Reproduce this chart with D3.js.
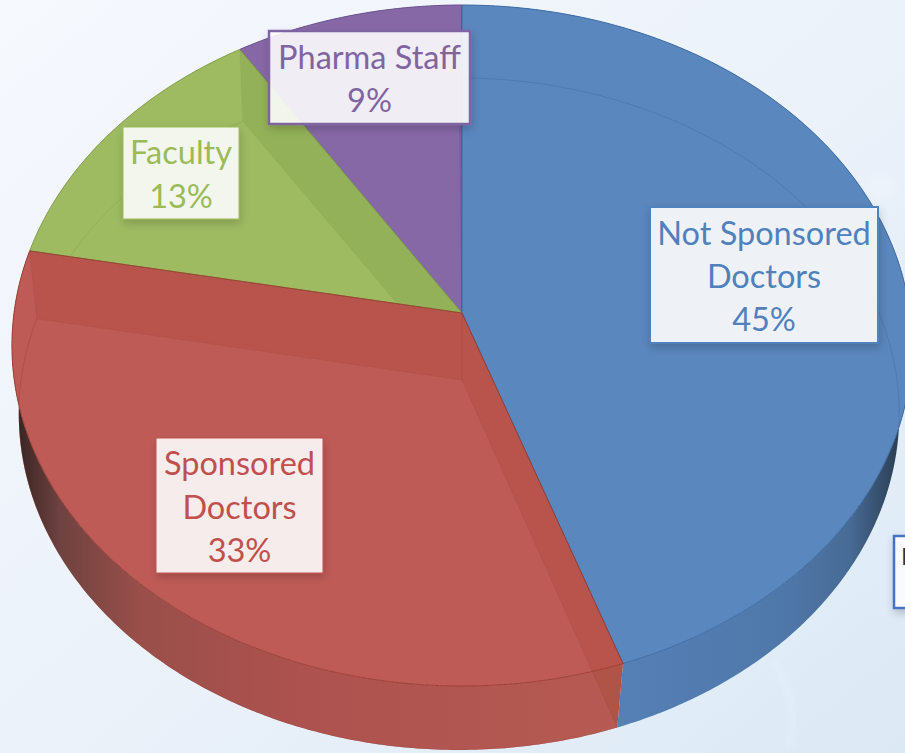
<!DOCTYPE html>
<html>
<head>
<meta charset="utf-8">
<title>pie</title>
<script src="https://cdn.jsdelivr.net/npm/d3@7/dist/d3.min.js"></script>
<style>
html, body {margin: 0; padding: 0; background: #e8f0f9; overflow: hidden}
svg {display: block}
text {font-family: Lato, "Open Sans", sans-serif; text-anchor: middle}
</style>
</head>
<body>
<svg width="905" height="753"></svg>
<script>
// values (labels show them rounded)
const categories = ["Not Sponsored Doctors", "Sponsored Doctors", "Faculty", "Pharma Staff"];
const shares = [44.7, 33.3, 13, 9];

const faceColors = ["#5a87be", "#bf5b57", "#9ebb62", "#8668a6"];
const edgeColors = ["#3f6ca3", "#9c4035", "#86a34e", "#6d5290"];
const bandColors = ["#2c5488", "#a03a20", "#6a8a30", "#5c4080"];
const labelColors = ["#4f81bd", "#c0504d", "#9bbb59", "#8064a2"];
const drawOrder = [3, 0, 2, 1];

// label boxes, one per category
const labelLines = [["Not Sponsored", "Doctors"], ["Sponsored", "Doctors"], ["Faculty"], ["Pharma Staff"]];
const labelBoxes = [
    {x: 650, y: 207, w: 228, h: 136, fill: 0.89, stroke: 2},
    {x: 156, y: 438, w: 167, h: 135, fill: 0.88, stroke: 1},
    {x: 123, y: 127, w: 116, h: 92, fill: 0.88, stroke: 1},
    {x: 269, y: 31, w: 201, h: 93, fill: 0.88, stroke: 2.5}
];
// the box that runs off the right side of the picture
const croppedLabel = "N";

const svg = d3.select("svg");
const defs = svg.append("defs");

// background
const bg = defs.append("linearGradient").attr("id", "bg")
    .attr("x1", 0).attr("y1", 0).attr("x2", 1).attr("y2", 1);
bg.append("stop").attr("offset", 0).attr("stop-color", "#f6f9fe");
bg.append("stop").attr("offset", 0.5).attr("stop-color", "#ecf2fa");
bg.append("stop").attr("offset", 1).attr("stop-color", "#dbe9f5");
svg.append("rect").attr("width", 905).attr("height", 753).attr("fill", "url(#bg)");

defs.append("filter").attr("id", "blur")
    .append("feGaussianBlur").attr("stdDeviation", 3);
svg.append("path")
    .attr("d", "M773,660C790,690 800,715 788,748")
    .attr("fill", "none").attr("stroke", "#fff").attr("stroke-opacity", 0.22)
    .attr("stroke-width", 4).attr("filter", "url(#blur)");
svg.append("ellipse")
    .attr("cx", 882).attr("cy", 186).attr("rx", 14).attr("ry", 12)
    .attr("fill", "#fff").attr("fill-opacity", 0.2).attr("filter", "url(#blur)");

const shadow = defs.append("filter").attr("id", "shadow")
    .attr("x", "-20%").attr("y", "-20%").attr("width", "140%").attr("height", "140%");
shadow.append("feDropShadow").attr("dx", 1).attr("dy", 4).attr("stdDeviation", 4)
    .attr("flood-color", "#000").attr("flood-opacity", 0.2);

// perspective of a disc: the apex is not the centre of the ellipse
const topDisc = {x0: 462, y0: 313, a: 448, b: 337.4, k: 0.0955, apexX: 462};
const bottomDisc = {x0: 459, y0: 380, a: 438, b: 332.6, k: 0.101, apexX: 462};

function project(disc, angle, r) {
    const u = r * Math.sin(angle), v = -r * Math.cos(angle);
    const w = 1 - disc.k * v;
    return [disc.x0 + disc.a * u / w, disc.y0 + disc.b * v / w];
}

function arcPoints(disc, a0, a1) {
    const n = Math.max(2, Math.ceil((a1 - a0) / 0.01));
    return d3.range(n + 1).map(i => project(disc, a0 + (a1 - a0) * i / n, 1));
}

const line = d3.line();
const arcs = d3.pie().sort(null).value(d => d)(shares);

// outer wall shading, dark where it turns away
const wallStops = [
    [[620, "#5580b6"], [780, "#4f78aa"], [850, "#486b95"], [905, "#27384c"]],
    [[12, "#33211f"], [60, "#6e4240"], [140, "#9a4f4a"], [300, "#ad524e"], [625, "#b65a53"]],
    [[0, "#888"], [905, "#888"]],
    [[0, "#888"], [905, "#888"]]
];
wallStops.forEach((stops, i) => {
    const g = defs.append("linearGradient").attr("id", "wall" + i)
        .attr("gradientUnits", "userSpaceOnUse")
        .attr("x1", stops[0][0]).attr("y1", 0)
        .attr("x2", stops[stops.length - 1][0]).attr("y2", 0);
    const s = d3.scaleLinear().domain([stops[0][0], stops[stops.length - 1][0]]).range([0, 1]);
    g.selectAll("stop").data(stops).enter().append("stop")
        .attr("offset", d => s(d[0]))
        .attr("stop-color", d => d[1]);
});

function wallPath(d) {
    const t = arcPoints(topDisc, d.startAngle, d.endAngle);
    const b = arcPoints(bottomDisc, d.startAngle, d.endAngle).reverse();
    return line(t.concat(b)) + "Z";
}

// outer walls
svg.append("g").selectAll("path").data(arcs).enter().append("path")
    .attr("d", wallPath)
    .attr("fill", (d, i) => "url(#wall" + i + ")");

function facePath(d) {
    return line([[topDisc.apexX, topDisc.y0]].concat(arcPoints(topDisc, d.startAngle, d.endAngle))) + "Z";
}

// top faces
svg.append("g").selectAll("path").data(drawOrder).enter().append("path")
    .attr("d", i => facePath(arcs[i]))
    .attr("fill", i => faceColors[i])
    .attr("stroke", i => edgeColors[i])
    .attr("stroke-width", 1);

// cut walls and the far rim, seen through the translucent slices
function wallQuad(angle) {
    return line([
        [topDisc.apexX, topDisc.y0],
        project(topDisc, angle, 1),
        project(bottomDisc, angle, 1),
        [bottomDisc.apexX, bottomDisc.y0]
    ]) + "Z";
}

arcs.forEach((d, i) => {
    const clip = defs.append("clipPath").attr("id", "clip" + i);
    clip.append("path").attr("d", facePath(d));
    // only a slice at the front shows its band over its own outer wall
    if (Math.cos((d.startAngle + d.endAngle) / 2) < 0) {
        clip.append("path").attr("d", wallPath(d));
    }

    const inside = svg.append("g").attr("clip-path", "url(#clip" + i + ")");
    inside.append("path")
        .attr("d", line(arcPoints(bottomDisc, d.startAngle, d.endAngle)))
        .attr("fill", "none")
        .attr("stroke", edgeColors[i])
        .attr("stroke-opacity", 0.45)
        .attr("stroke-width", 1);
    [d.startAngle, d.endAngle].forEach(angle => {
        inside.append("path")
            .attr("d", wallQuad(angle))
            .attr("fill", bandColors[i])
            .attr("fill-opacity", 0.2)
            .attr("stroke", edgeColors[i])
            .attr("stroke-opacity", 0.25)
            .attr("stroke-width", 0.7);
    });
});

// labels
const label = svg.append("g").selectAll("g").data(arcs).enter().append("g");
label.append("rect")
    .attr("x", (d, i) => labelBoxes[i].x)
    .attr("y", (d, i) => labelBoxes[i].y)
    .attr("width", (d, i) => labelBoxes[i].w)
    .attr("height", (d, i) => labelBoxes[i].h)
    .attr("fill", "#fff")
    .attr("fill-opacity", (d, i) => labelBoxes[i].fill)
    .attr("stroke", (d, i) => labelColors[i])
    .attr("stroke-width", (d, i) => labelBoxes[i].stroke)
    .attr("filter", "url(#shadow)");

label.each(function(d, i) {
    const box = labelBoxes[i];
    const rows = labelLines[i].concat([Math.round(d.data) + "%"]);
    d3.select(this).selectAll("text").data(rows).enter().append("text")
        .text(r => r)
        .attr("x", box.x + box.w / 2)
        .attr("y", (r, j) => box.y + box.h / 2 - (rows.length - 1) * 21.7 + j * 43.4 + 13)
        .attr("font-size", 32.5)
        .attr("fill", labelColors[i]);
});

svg.append("rect")
    .attr("x", 894).attr("y", 536).attr("width", 40).attr("height", 72)
    .attr("fill", "#f8fafd")
    .attr("stroke", "#4472c4").attr("stroke-width", 2.5)
    .attr("filter", "url(#shadow)");
svg.append("text")
    .text(croppedLabel)
    .attr("x", 901).attr("y", 565)
    .attr("font-size", 24)
    .attr("fill", "#333")
    .style("text-anchor", "start");
</script>
</body>
</html>
